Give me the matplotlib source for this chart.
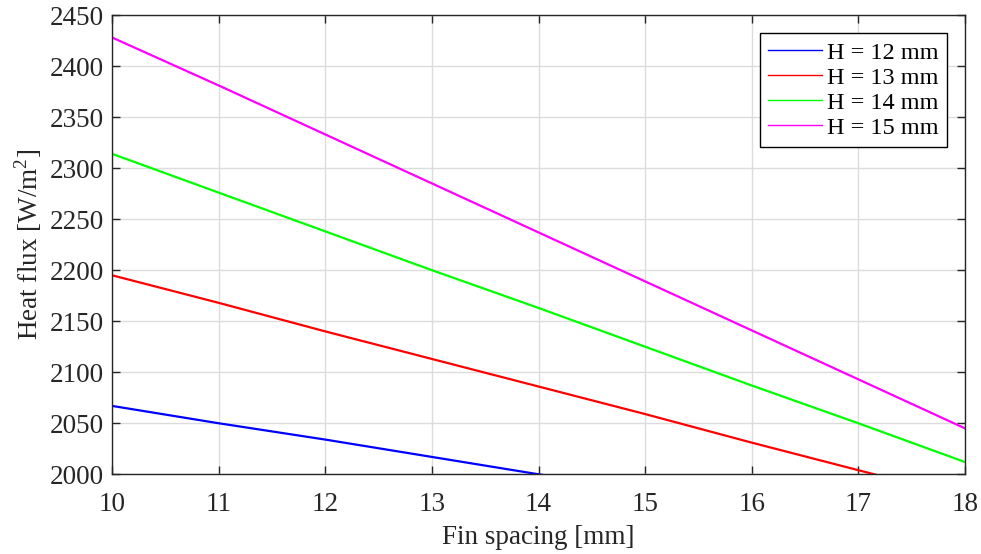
from matplotlib import pyplot as plt
import numpy as np

# Fin spacing [mm]
spacing = [10, 11, 12, 13, 14, 15, 16, 17, 18]

# Heat flux [W/m^2] for each fin height
q_h12 = [2067, 2050, 2034, 2017, 2000, 1984, 1967, 1950, 1934]
q_h13 = [2195, 2168, 2140, 2113, 2086, 2059, 2031, 2004, 1977]
q_h14 = [2314, 2276, 2238, 2200, 2163, 2125, 2087, 2050, 2012]
q_h15 = [2428, 2381, 2333, 2285, 2237, 2189, 2141, 2093, 2045]

labels = ["H = 12 mm", "H = 13 mm", "H = 14 mm", "H = 15 mm"]
colors = ["#0000ff", "#ff0000", "#00ff00", "#ff00ff"]

plt.rcParams['font.family'] = ['Liberation Serif', 'DejaVu Serif']
plt.rcParams['mathtext.fontset'] = 'custom'
plt.rcParams['mathtext.rm'] = 'Liberation Serif'

fig = plt.figure(figsize=(9.81, 5.54), dpi=100)
ax = fig.add_axes([0.1142, 0.1439, 0.8695, 0.8290])

for q, lab, c in zip([q_h12, q_h13, q_h14, q_h15], labels, colors):
    ax.plot(spacing, q, color=c, linewidth=1.6, label=lab)

ax.set_xlim(10, 18)
ax.set_ylim(2000, 2450)
ax.set_xticks(np.arange(10, 19, 1))
ax.set_yticks(np.arange(2000, 2451, 50))

ax.grid(True, color='#dcdcdc', linewidth=1.0)
ax.set_axisbelow(True)
for s in ax.spines.values():
    s.set_color('#262626')
    s.set_linewidth(1.0)
ax.tick_params(direction='in', length=6, width=1.0, color='#262626',
               top=True, right=True, labelsize=19.5, labelcolor='#262626')
ax.tick_params(axis='x', pad=13)
ax.tick_params(axis='y', pad=6)

ax.set_xlabel("Fin spacing [mm]", fontsize=19.5, color='#262626', labelpad=5.5)
ax.set_ylabel(r"Heat flux [W/m$^2$]", fontsize=19.5, color='#262626', labelpad=4)

leg = ax.legend(loc='upper right', fontsize=17.5, frameon=True, fancybox=False,
                edgecolor='black', framealpha=1, borderaxespad=0.75,
                handlelength=2.2, handletextpad=0.2, labelspacing=0.12,
                borderpad=0.35)
leg.get_frame().set_linewidth(1.0)
for l in leg.get_lines():
    l.set_linewidth(1.0)

fig.savefig("out.png", dpi=100)
